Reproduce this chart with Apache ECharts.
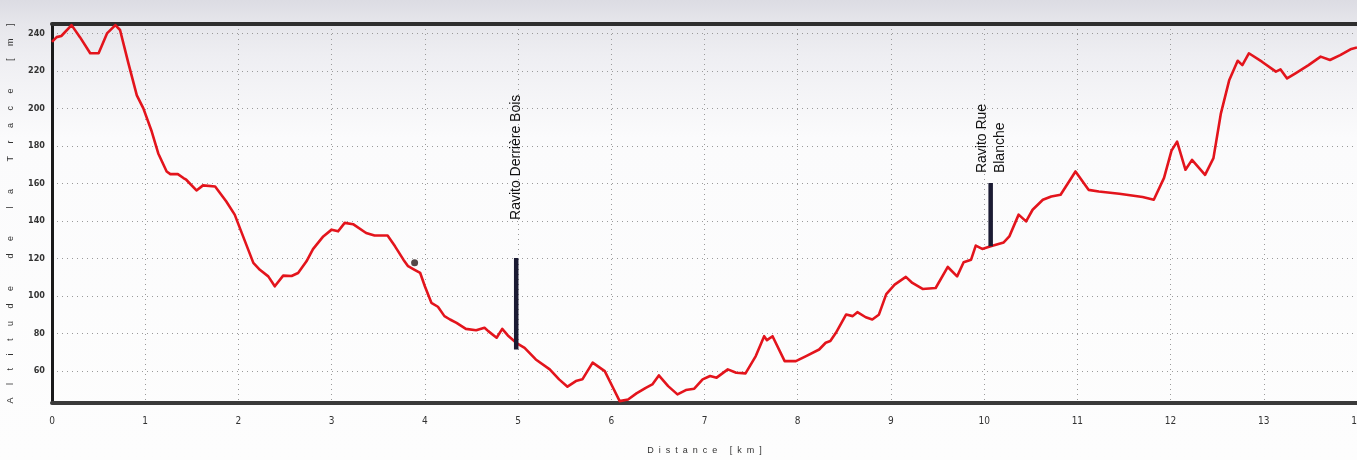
<!DOCTYPE html>
<html>
<head>
<meta charset="utf-8">
<style>
  html, body { margin: 0; padding: 0; background: #f6f6f8; overflow: hidden; }
  #chart { width: 1357px; height: 460px; }
</style>
<script src="https://cdn.jsdelivr.net/npm/echarts@6.0.0/dist/echarts.min.js"></script>
</head>
<body>
<div id="chart"></div>
<script>
// ---- data ----
const distanceKm = [0.00,0.05,0.10,0.21,0.30,0.41,0.50,0.59,0.68,0.73,0.82,0.91,0.98,1.07,1.14,1.23,1.27,1.35,1.41,1.44,1.55,1.62,1.75,1.87,1.96,2.05,2.16,2.23,2.32,2.39,2.48,2.57,2.64,2.73,2.80,2.91,3.00,3.07,3.14,3.23,3.37,3.46,3.60,3.68,3.77,3.82,3.89,3.95,4.00,4.07,4.14,4.21,4.27,4.34,4.44,4.55,4.64,4.68,4.77,4.83,4.89,4.98,5.07,5.19,5.34,5.44,5.53,5.62,5.69,5.80,5.93,6.02,6.09,6.18,6.27,6.37,6.44,6.51,6.61,6.71,6.80,6.89,6.98,7.06,7.13,7.25,7.34,7.44,7.55,7.64,7.67,7.73,7.86,7.98,8.09,8.23,8.30,8.35,8.41,8.52,8.59,8.64,8.73,8.80,8.87,8.95,9.04,9.16,9.23,9.34,9.48,9.61,9.71,9.78,9.86,9.91,9.98,10.07,10.21,10.27,10.37,10.45,10.52,10.63,10.72,10.82,10.98,11.12,11.23,11.45,11.70,11.82,11.93,12.01,12.07,12.16,12.23,12.37,12.46,12.54,12.63,12.72,12.77,12.84,12.98,13.13,13.18,13.25,13.34,13.48,13.61,13.71,13.82,13.93,14.00];
const altitudeM  = [235.5,238,238.6,244.4,238,229.4,229.4,240,244.4,241.8,224,207,200,187.7,176,166.4,165,165,162.9,162,156.3,159,158.4,150.4,143.4,131.8,117.7,114,110.5,105.2,110.9,110.7,112.3,118.5,125,131.8,135.4,134.5,139,138.3,133.6,132.3,132.3,126.5,119.4,115.9,114,112.3,105.2,96.4,94.3,89.3,87.5,85.7,82.5,81.8,83.1,81.3,77.8,82.5,79,75.1,72.4,66.2,60.9,55.6,51.7,54.7,55.6,64.5,60,51,44,44.9,48.1,51.1,52.9,57.7,52,47.6,49.9,50.6,55.6,57.4,56.5,60.9,59.1,58.8,68,78.6,76.5,78.6,65.3,65.3,68,71.5,75.1,76,80.4,90.2,89.3,91.4,88.7,87.5,90,101,106.1,110.2,107,103.8,104.3,115.5,110.5,118,119.4,126.9,125.1,126.5,128.6,131.8,143.4,139.8,146,151.3,153.1,154,166.4,156.6,155.7,154.5,152.8,151.3,163,177.5,182.3,167.3,172.6,164.6,173.5,197.4,215.2,225.4,223.1,229.4,224.9,219.6,220.8,216,218.7,223.1,227.6,225.8,228.4,231.5,232.5];

const stopNames  = ['Ravito Derrière Bois', 'Ravito Rue\nBlanche'];
const stopKm     = [4.98, 10.07];
const stopBottom = [71.5, 126.5];
const stopTop    = [120.3, 160.2];

const markerKm  = [3.89];
const markerAlt = [117.7];

const yTickValues = [60, 80, 100, 120, 140, 160, 180, 200, 220, 240];
const xTitle = 'Distance [km]';
const yTitle = 'Altitude de la Trace [m]';

// ---- chart ----
function spaced(s, n) { return s.split('').join(' '.repeat(n)); }

const stopLabelGap = [38, 10];

const stopSeries = stopKm.map((km, i) => ({
  type: 'line',
  data: [
    [km, stopBottom[i]],
    { value: [km, stopTop[i]],
      label: {
        show: true, formatter: stopNames[i], position: 'top', distance: stopLabelGap[i],
        rotate: 90, align: 'left', verticalAlign: 'middle',
        fontFamily: 'Liberation Sans, Arial, sans-serif', fontSize: 14, color: '#111', lineHeight: 18
      } }
  ],
  showSymbol: true, symbol: 'circle', symbolSize: 0,
  lineStyle: { color: '#1b1b33', width: 4.5, cap: 'butt' },
  itemStyle: { color: '#1b1b33' },
  z: 4, silent: true, animation: false
}));

const chart = echarts.init(document.getElementById('chart'), null, { renderer: 'canvas' });
chart.setOption({
  animation: false,
  backgroundColor: {
    type: 'linear', x: 0, y: 0, x2: 0, y2: 1,
    colorStops: [
      { offset: 0, color: '#dcdce3' },
      { offset: 0.05, color: '#e6e6eb' },
      { offset: 0.12, color: '#eeeef2' },
      { offset: 0.3, color: '#fbfbfc' },
      { offset: 1, color: '#fdfdfd' }
    ]
  },
  grid: { left: 52, right: 0, top: 24, bottom: 57, containLabel: false, outerBoundsMode: 'none' },
  xAxis: [{
    type: 'value', min: 0, max: 14, interval: 1,
    name: spaced(xTitle, 2), nameLocation: 'middle', nameGap: 43,
    nameTextStyle: { fontSize: 9, color: '#333', fontFamily: 'Liberation Sans, Arial, sans-serif' },
    axisLine: { onZero: false, lineStyle: { color: '#3a3a3a', width: 4 } },
    axisTick: { show: false },
    axisLabel: { margin: 13, fontSize: 10, color: '#333', fontFamily: 'DejaVu Sans Condensed, Liberation Sans, sans-serif' },
    splitLine: { show: true, lineStyle: { color: '#9a9a9a', type: [1, 4], width: 1 } }
  }, {
    type: 'value', min: 0, max: 14, position: 'top',
    axisLine: { onZero: false, lineStyle: { color: '#2e2e2e', width: 4 } },
    axisTick: { show: false }, axisLabel: { show: false }, splitLine: { show: false }
  }],
  yAxis: {
    type: 'value', min: 43, max: 245,
    name: spaced(yTitle, 5), nameLocation: 'middle', nameRotate: 90, nameGap: 37,
    nameTextStyle: { fontSize: 9, color: '#333', fontFamily: 'Liberation Sans, Arial, sans-serif' },
    axisLine: { show: true, onZero: false, lineStyle: { color: '#1a1a1a', width: 3 } },
    axisTick: { show: false, customValues: yTickValues },
    axisLabel: { customValues: yTickValues, margin: 7, fontSize: 9, fontWeight: 'bold', color: '#333',
                 fontFamily: 'DejaVu Sans Condensed, Liberation Sans, sans-serif' },
    splitLine: { show: true, customValues: yTickValues, lineStyle: { color: '#9a9a9a', type: [1, 4], width: 1 } }
  },
  series: [
    {
      type: 'line',
      data: distanceKm.map((d, i) => [d, altitudeM[i]]),
      showSymbol: false,
      lineStyle: { color: '#e3141c', width: 2.6, join: 'round' },
      z: 3, silent: true
    },
    ...stopSeries,
    {
      type: 'scatter',
      data: markerKm.map((d, i) => [d, markerAlt[i]]),
      symbolSize: 7,
      itemStyle: { color: '#2a1a1a' },
      z: 5, silent: true
    }
  ]
});
</script>
</body>
</html>
